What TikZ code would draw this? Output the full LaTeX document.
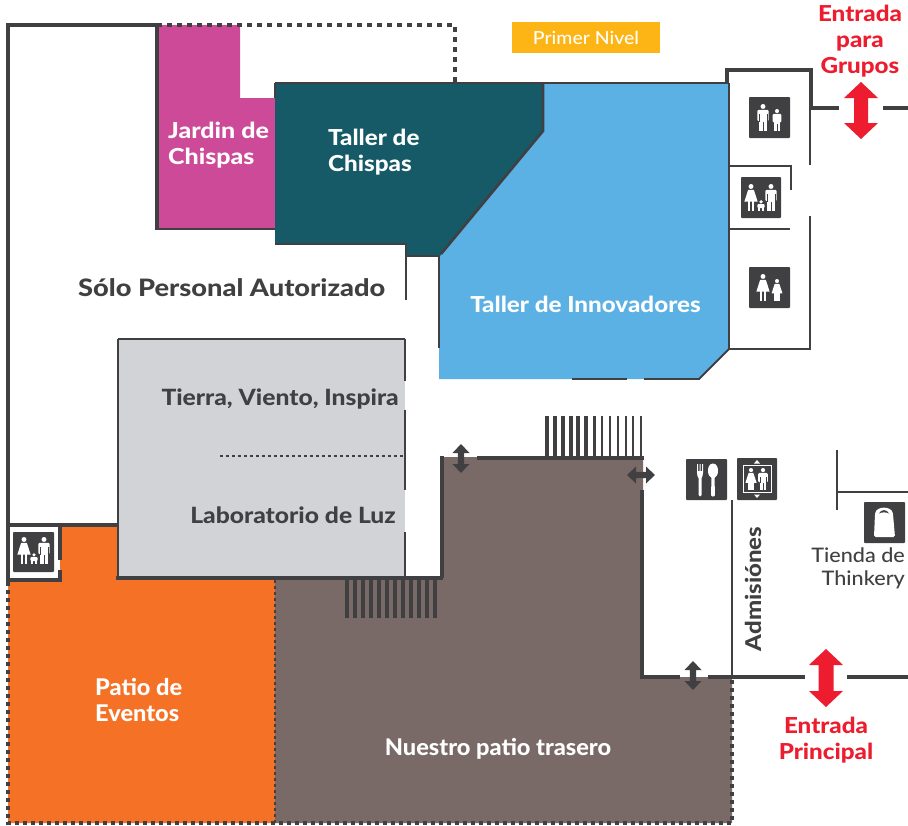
\documentclass[tikz,border=0pt]{standalone}
\usepackage{fontspec}
\setmainfont{Lato}
\newfontfamily\hvA{Lato}[FakeStretch=1.135,UprightFont=* Heavy]
\newfontfamily\hvB{Lato}[FakeStretch=1.10,UprightFont=* Heavy]
\newfontfamily\hvC{Lato}[FakeStretch=1.025,UprightFont=* Heavy]
\newfontfamily\hvD{Lato}[FakeStretch=1.08,UprightFont=* Medium]
\newfontfamily\hvE{Lato}[FakeStretch=1.08,UprightFont=* Medium]
\definecolor{wall}{HTML}{404042}
\definecolor{magent}{HTML}{CC4A97}
\definecolor{tealr}{HTML}{155A66}
\definecolor{bluer}{HTML}{5CB1E4}
\definecolor{orng}{HTML}{F57125}
\definecolor{brwn}{HTML}{7A6A67}
\definecolor{grayr}{HTML}{D1D3D6}
\definecolor{redr}{HTML}{ED1C2E}
\definecolor{yell}{HTML}{FDB515}
\tikzset{
 thickwall/.style={draw=wall,line width=4pt},
 midwall/.style={draw=wall,line width=2.6pt},
 thinwall/.style={draw=wall,line width=1.8pt},
 dotwall/.style={draw=wall,line width=4pt,dash pattern=on 5pt off 5pt},
 dotlow/.style={draw=wall,line width=4pt,dash pattern=on 4pt off 4pt},
 whitelabel/.style={text=white,font=\hvB\fontsize{22}{26}\selectfont,align=left,inner sep=0pt},
 darklabel/.style={text=wall,font=\hvB\fontsize{22.4}{26}\selectfont,inner sep=0pt},
 redlabel/.style={text=redr,font=\hvB\fontsize{22}{26}\selectfont,align=center,inner sep=0pt},
 iconbox/.style={fill=wall,rounded corners=0.8pt},
 figure/.style={fill=white,draw=none}
}
\newcommand{\vdbl}[7]{\fill[#7] (#1,#2) -- (#1+#4,#2+#5) -- (#1+#6,#2+#5) -- (#1+#6,#3-#5) -- (#1+#4,#3-#5) -- (#1,#3) -- (#1-#4,#3-#5) -- (#1-#6,#3-#5) -- (#1-#6,#2+#5) -- (#1-#4,#2+#5) -- cycle;}
\newcommand{\hdbl}[7]{\fill[#7] (#2,#1) -- (#2+#5,#1+#4) -- (#2+#5,#1+#6) -- (#3-#5,#1+#6) -- (#3-#5,#1+#4) -- (#3,#1) -- (#3-#5,#1-#4) -- (#3-#5,#1-#6) -- (#2+#5,#1-#6) -- (#2+#5,#1-#4) -- cycle;}
\newcommand{\manfig}[3]{\begin{scope}[shift={(#1,#2)},scale=#3]
 \fill[figure] (0,2.6) circle (2.6);
 \fill[figure,rounded corners=1.2pt] (-6,6.2) rectangle (6,18);
 \fill[figure] (-4,10) rectangle (4,28) ;
 \fill[wall] (-0.3,19) rectangle (0.3,28);
 \fill[wall] (-4.2,11) rectangle (-3.8,18.5);
 \fill[wall] (3.8,11) rectangle (4.2,18.5);
\end{scope}}
\newcommand{\womanfig}[3]{\begin{scope}[shift={(#1,#2)},scale=#3]
 \fill[figure] (0,2.6) circle (2.6);
 \fill[figure] (-3,6.2) -- (3,6.2) -- (7,18.5) -- (-7,18.5) -- cycle;
 \fill[figure] (-3.4,18) rectangle (-0.6,28);
 \fill[figure] (0.6,18) rectangle (3.4,28);
\end{scope}}
\newcommand{\babyfig}[3]{\begin{scope}[shift={(#1,#2)},scale=#3]
 \fill[figure] (0,1.8) circle (1.8);
 \fill[figure,rounded corners=1pt] (-3.6,4) rectangle (3.6,8);
 \fill[figure] (-3,8) rectangle (-0.7,11);
 \fill[figure] (0.7,8) rectangle (3,11);
\end{scope}}
\begin{document}
\begin{tikzpicture}[x=1pt,y=-1pt]
\useasboundingbox (0,0) rectangle (908,825);
\fill[white] (0,0) rectangle (908,825);
% coloured rooms
\fill[orng] (8,525) -- (118,525) -- (118,578) -- (275,578) -- (275,823) -- (8,823) -- cycle;
\fill[white] (8,525) rectangle (60,580);
\fill[brwn] (441,457) -- (643,457) -- (643,677) -- (732,677) -- (732,823) -- (275,823) -- (275,578) -- (441,578) -- cycle;
\fill[grayr] (118,339) rectangle (405,578);
\fill[magent] (157,25) -- (240,25) -- (240,98) -- (275,98) -- (275,229) -- (157,229) -- cycle;
\fill[bluer] (543,83) -- (729,83) -- (729,349) -- (699,379) -- (439,379) -- (439,256) -- (543,131) -- cycle;
\fill[tealr] (275,83) -- (543,83) -- (543,131) -- (440,256) -- (405.5,256) -- (405.5,244) -- (275,244) -- cycle;
\fill[yell] (512,22) rectangle (660,53);
% heavy walls
\draw[thickwall] (8,525) -- (8,25) -- (157,25);
\draw[thickwall,line cap=butt] (157,23) -- (157,229);
\draw[midwall] (155,229) -- (275,229);
\draw[thickwall] (6,525) -- (118,525);
\draw[thickwall] (8,525) -- (8,580) -- (60,580) -- (60,570);
\draw[thickwall] (60,525) -- (60,560);
\draw[midwall] (118,339) -- (118,578);
\draw[midwall] (118,339) -- (405,339);
\draw[thickwall] (116,578) -- (443,578);
\draw[thickwall] (442,578) -- (442,456);
\draw[thickwall] (477,458) -- (644,458);
\draw[thickwall] (642,490) -- (642,677);
\draw[thickwall] (640,677) -- (680,677);
\draw[thickwall] (708,677) -- (805,677);
\draw[thickwall] (847,677) -- (908,677);
\draw[thinwall] (732,500) -- (732,677);
\draw[thinwall] (405,339) -- (405,381);
\draw[thinwall] (405,410) -- (405,490);
\draw[thinwall] (405,532) -- (405,578);
% upper walls
\draw[thinwall] (275,83) -- (455,83);
\draw[midwall] (455,83) -- (729,83);
\draw[thinwall] (275,83) -- (275,98);
\draw[thinwall] (275,244) -- (406,244) -- (406,300);
\draw[thinwall] (406,256) -- (439,256);
\draw[midwall] (439,256) -- (439,348);
\draw[midwall] (441,254) -- (543,131) -- (543,83);
\draw[thickwall] (727,83) -- (727,70) -- (811,70) -- (811,108);
\draw[thickwall] (809,108) -- (839,108);
\draw[thickwall] (883,108) -- (908,108);
\draw[midwall] (729,83) -- (729,349);
\draw[thinwall] (810,108) -- (810,165);
\draw[thinwall] (810,216) -- (810,349) -- (729,349) -- (699,379) -- (644,379);
\draw[thinwall] (627,379) -- (572,379);
\draw[thinwall] (730,166) -- (791,166) -- (791,190);
\draw[thinwall] (730,229) -- (790,229);
\draw[thinwall] (837,450) -- (837,510);
\draw[thinwall] (837,492) -- (908,492);
% dotted limits
\draw[dotwall] (157,25) -- (455,25) -- (455,83);
\draw[dotlow] (8,582) -- (8,823) -- (732,823) -- (732,679);
\draw[draw=wall,line width=2pt,dash pattern=on 3pt off 3pt] (275,580) -- (275,823);
\draw[draw=wall,line width=2pt,dash pattern=on 3pt off 3pt] (220,456) -- (405,456);
% stairs
\foreach \bx/\bw in {547/4,555/3.8,563/3.6,571/3.4,578/3.2,586/3.1,594/3,602/2.8,610/2.6,618/2.5,626/2.4,633/2.2,641/2}
  \fill[wall] (\bx-\bw/2,416) rectangle (\bx+\bw/2,458);
\foreach \bx in {347,355,363,371,379,387,395,403,411,419,427,435}
  \fill[wall] (\bx-1.7,580) rectangle (\bx+1.7,617.5);
% small arrows
\vdbl{461}{444}{473}{8.5}{9}{3.2}{wall}
\vdbl{693}{661}{690}{8.5}{9}{3.2}{wall}
\hdbl{475}{627}{655}{8.5}{9}{3.2}{wall}
% red arrows
\vdbl{861}{82}{139}{17}{16}{7}{redr}
\vdbl{826}{649}{707}{17}{16}{7.5}{redr}
% icons
\fill[iconbox] (749,97) rectangle (790,138);
\manfig{763}{104}{0.95}
\begin{scope}[shift={(777,109)},scale=0.78]
 \fill[figure] (0,2.6) circle (2.6);
 \fill[figure,rounded corners=1pt] (-5.5,6.2) rectangle (5.5,17);
 \fill[figure] (-3.6,14) rectangle (3.6,28);
 \fill[wall] (-0.3,19) rectangle (0.3,28);
\end{scope}
\fill[iconbox] (749,267) rectangle (790,308);
\womanfig{763}{274}{0.95}
\womanfig{777}{279}{0.78}
\fill[iconbox] (741,177) rectangle (781,218);
\womanfig{751}{184}{0.95}
\manfig{771}{184}{0.95}
\babyfig{761}{200}{1}
\fill[iconbox] (13,532) rectangle (54,572);
\womanfig{24}{537}{0.95}
\manfig{44}{537}{0.95}
\babyfig{34}{553}{1}
% fork and spoon
\fill[iconbox] (686,459) rectangle (727,500);
\fill[white] (697,464) -- (698,464) -- (698,471) -- (699.5,471) -- (699.5,464) -- (700.5,464) -- (700.5,471) -- (702,471) -- (702,464) -- (703,464) -- (703,473) .. controls (703,476) and (702,477) .. (701.5,478) -- (701.5,495) .. controls (701.5,497) and (698.5,497) .. (698.5,495) -- (698.5,478) .. controls (698,477) and (697,476) .. (697,473) -- cycle;
\fill[white] (713,463.5) .. controls (709,463.5) and (708,468) .. (708,471) .. controls (708,475) and (710,477) .. (711.5,478) -- (711,495) .. controls (711,497) and (715,497) .. (715,495) -- (714.5,478) .. controls (716,477) and (718,475) .. (718,471) .. controls (718,468) and (717,463.5) .. (713,463.5) -- cycle;
% elevator
\fill[iconbox] (737,458) rectangle (777,500);
\draw[white,line width=1pt] (743.5,465.5) rectangle (771,492.5);
\fill[white] (757,460) -- (760,463.5) -- (754,463.5) -- cycle;
\fill[white] (757,498) -- (760,494.5) -- (754,494.5) -- cycle;
\womanfig{751}{468}{0.8}
\manfig{763}{468}{0.8}
% bag
\fill[iconbox] (864,502) rectangle (905,543);
\fill[white,rounded corners=1.5pt] (875,514) .. controls (877,506) and (891,506) .. (893,514) -- (895,537) -- (874,537) -- cycle;
\fill[wall] (879,513.5) .. controls (881,509) and (887,509) .. (889,513.5) .. controls (887,512) and (881,512) .. (879,513.5) -- cycle;
% labels
\node[whitelabel,font=\hvA\fontsize{22}{26}\selectfont,anchor=west] (jardin) at (168,145) {Jardin de\\Chispas};
\node[whitelabel,anchor=west] (taller) at (328,152) {Taller de\\Chispas};
\node[whitelabel,anchor=center] (innov) at (585.5,304) {Taller de Innovadores};
\node[darklabel,font=\hvA\fontsize{24}{26}\selectfont,anchor=west] (solo) at (78,287.5) {Sólo Personal Autorizado};
\node[darklabel,anchor=east] (tierra) at (399,399) {Tierra, Viento, Inspira};
\node[darklabel,anchor=east] (lab) at (396,515) {Laboratorio de Luz};
\node[whitelabel,font=\hvC\fontsize{23}{26}\selectfont,anchor=west] (patio) at (95,699.5) {Patio de\\Eventos};
\node[whitelabel,font=\hvC\fontsize{23}{26}\selectfont,anchor=center] (nuestro) at (498,749) {Nuestro patio trasero};
\node[text=white,font=\hvE\fontsize{18}{20}\selectfont,inner sep=0pt] (primer) at (586,38) {Primer Nivel};
\node[redlabel] (grupos) at (860,41) {Entrada\\para\\Grupos};
\node[redlabel] (principal) at (826,740) {Entrada\\Principal};
\node[darklabel,font=\hvB\fontsize{21.8}{26}\selectfont,rotate=90] (admis) at (753,589) {Admisiónes};
\node[text=wall,font=\hvD\fontsize{20}{23}\selectfont,align=right,inner sep=0pt,anchor=east] (tienda) at (905,568.5) {Tienda de\\Thinkery};
\end{tikzpicture}
\end{document}
